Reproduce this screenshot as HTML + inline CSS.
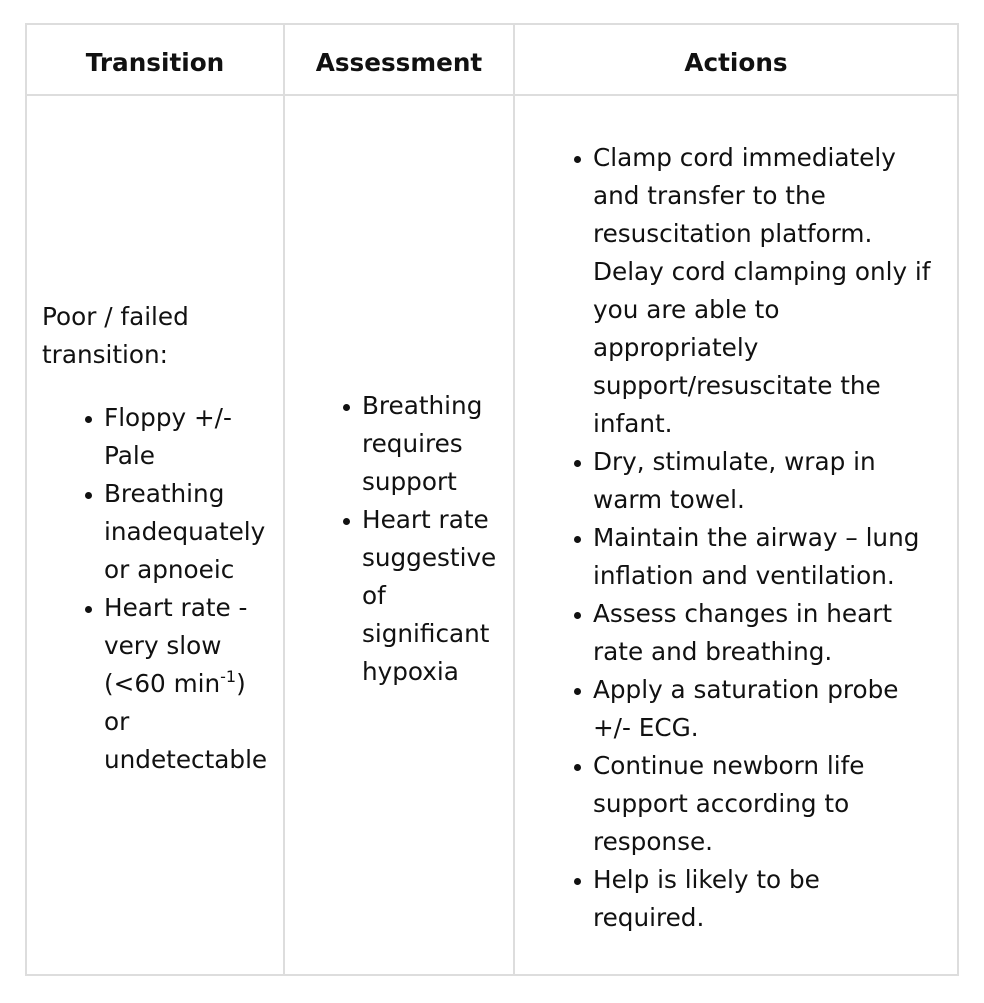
<!DOCTYPE html>
<html><head><meta charset="utf-8"><style>
html,body{margin:0;padding:0;background:#fff;width:984px;height:1003px;overflow:hidden}
body{font-family:"DejaVu Sans","Liberation Sans",sans-serif;font-size:24.7px;color:#111;position:relative}
.b{position:absolute;background:#ddd}
.h{position:absolute;top:44px;line-height:38px;font-weight:bold;text-align:center}
.t{position:absolute;line-height:38px;white-space:nowrap}
.li{position:relative}
.li:before{content:"";position:absolute;left:-19px;top:17px;width:7px;height:7px;border-radius:50%;background:#111}
sup{font-size:16px;line-height:0;vertical-align:10px}
</style></head><body>
<div class="b" style="left:25px;top:23px;width:934px;height:2px"></div>
<div class="b" style="left:25px;top:94px;width:934px;height:2px"></div>
<div class="b" style="left:25px;top:974px;width:934px;height:2px"></div>
<div class="b" style="left:25px;top:23px;width:2px;height:953px"></div>
<div class="b" style="left:283px;top:23px;width:2px;height:953px"></div>
<div class="b" style="left:513px;top:23px;width:2px;height:953px"></div>
<div class="b" style="left:957px;top:23px;width:2px;height:953px"></div>

<div class="h" style="left:27px;width:256px">Transition</div>
<div class="h" style="left:285px;width:228px">Assessment</div>
<div class="h" style="left:515px;width:442px">Actions</div>

<div class="t" style="left:42px;top:298px">Poor / failed<br>transition:</div>
<div class="t" style="left:104px;top:399px">
<div class="li">Floppy +/-<br>Pale</div>
<div class="li">Breathing<br>inadequately<br>or apnoeic</div>
<div class="li">Heart rate -<br>very slow<br>(&lt;60 min<sup>-1</sup>)<br>or<br>undetectable</div>
</div>

<div class="t" style="left:362px;top:387px">
<div class="li">Breathing<br>requires<br>support</div>
<div class="li">Heart rate<br>suggestive<br>of<br>significant<br>hypoxia</div>
</div>

<div class="t" style="left:593px;top:139px">
<div class="li">Clamp cord immediately<br>and transfer to the<br>resuscitation platform.<br>Delay cord clamping only if<br>you are able to<br>appropriately<br>support/resuscitate the<br>infant.</div>
<div class="li">Dry, stimulate, wrap in<br>warm towel.</div>
<div class="li">Maintain the airway – lung<br>inflation and ventilation.</div>
<div class="li">Assess changes in heart<br>rate and breathing.</div>
<div class="li">Apply a saturation probe<br>+/- ECG.</div>
<div class="li">Continue newborn life<br>support according to<br>response.</div>
<div class="li">Help is likely to be<br>required.</div>
</div>
</body></html>
